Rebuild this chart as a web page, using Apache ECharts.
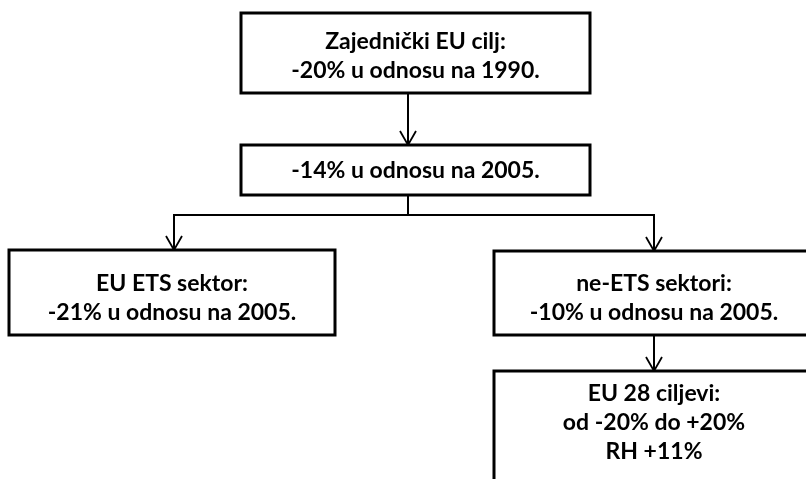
<!DOCTYPE html>
<html>
<head>
<meta charset="utf-8">
<script src="https://cdn.jsdelivr.net/npm/echarts@6/dist/echarts.min.js"></script>
<style>
  html, body { margin: 0; padding: 0; background: #fff; }
  #chart { width: 806px; height: 479px; }
</style>
</head>
<body>
<div id="chart"></div>
<script>
// tekst u kućicama
const boxLabels = [
  ["Zajednički EU cilj:", "-20% u odnosu na 1990."],
  ["-14% u odnosu na 2005."],
  ["EU ETS sektor:", "-21% u odnosu na 2005."],
  ["ne-ETS sektori:", "-10% u odnosu na 2005."],
  ["EU 28 ciljevi:", "od -20% do +20%", "RH +11%"],
];
// veze [od, do]
const links = [
  [0, 1],
  [1, 2],
  [1, 3],
  [3, 4],
];

// raspored kućica (x, y, širina, visina, y teksta, x priključka)
const layout = [
  { x: 241, y: 13, w: 349, h: 80, ty: 56, port: 408 },
  { x: 241, y: 145, w: 349, h: 50, ty: 171, port: 408 },
  { x: 9, y: 250, w: 326, h: 85, ty: 298, port: 174 },
  { x: 494, y: 251, w: 320, h: 84, ty: 298, port: 654 },
  { x: 494, y: 371, w: 320, h: 130, ty: 423, port: 654 },
];

const chart = echarts.init(document.getElementById("chart"));

const elements = [];

// spojnice sa strelicama
links.forEach((link) => {
  const from = layout[link[0]];
  const to = layout[link[1]];
  const y0 = from.y + from.h;
  const midY = y0 + 20;
  const y1 = to.y;
  const pts =
    from.port === to.port
      ? [[from.port, y0], [to.port, y1]]
      : [[from.port, y0], [from.port, midY], [to.port, midY], [to.port, y1]];
  elements.push({
    type: "polyline",
    shape: { points: pts },
    style: { stroke: "#000", lineWidth: 2, fill: null },
    z: 1,
  });
  elements.push({
    type: "polyline",
    shape: {
      points: [
        [to.port - 8, y1 - 14],
        [to.port, y1],
        [to.port + 8, y1 - 14],
      ],
    },
    style: { stroke: "#000", lineWidth: 1.8, fill: null },
    z: 1,
  });
});

// kućice
boxLabels.forEach((lines, i) => {
  const b = layout[i];
  elements.push({
    type: "rect",
    shape: { x: b.x, y: b.y, width: b.w, height: b.h },
    style: { fill: "#fff", stroke: "#000", lineWidth: 3 },
    z: 2,
  });
  elements.push({
    type: "text",
    x: b.x + b.w / 2,
    y: b.ty,
    style: {
      text: lines.join("\n"),
      font: "bold 23px Lato",
      fill: "#000",
      align: "center",
      verticalAlign: "middle",
      lineHeight: 29,
    },
    z: 3,
  });
});

chart.setOption({
  backgroundColor: "#fff",
  animation: false,
  graphic: { elements: elements },
});
</script>
</body>
</html>
